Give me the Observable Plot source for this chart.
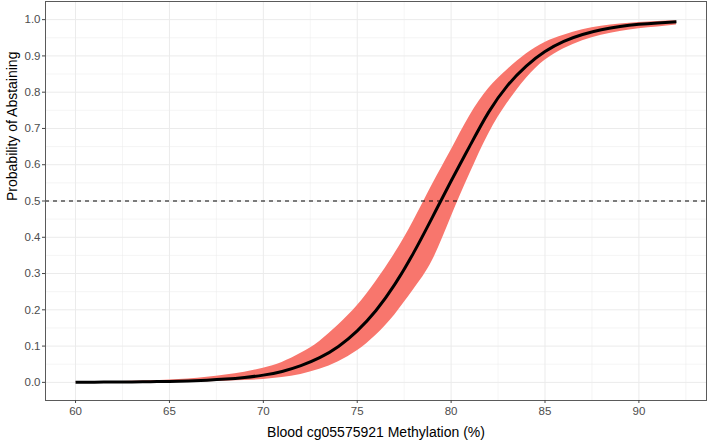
<!DOCTYPE html>
<html>
<head>
<meta charset="utf-8">
<script src="https://cdn.jsdelivr.net/npm/d3@7"></script>
<script src="https://cdn.jsdelivr.net/npm/@observablehq/plot@0.6"></script>
<style>
  html, body { margin: 0; padding: 0; background: white; }
</style>
</head>
<body>
<div id="chart"></div>
<script>
const methylation = [60,61,62,63,64,65,66,67,68,69,70,71,72,73,74,75,76,77,78,79,80,81,82,83,84,85,86,87,88,89,90,91,92];
const fitted = [0.0004,0.0006,0.0008,0.0012,0.0018,0.0027,0.004,0.006,0.009,0.0135,0.02,0.03,0.046,0.068,0.099,0.142,0.198,0.27,0.357,0.455,0.555,0.652,0.745,0.818,0.872,0.912,0.94,0.959,0.972,0.981,0.987,0.991,0.994];
const upper = [0.001,0.0015,0.002,0.003,0.0045,0.0065,0.0095,0.014,0.02,0.028,0.039,0.055,0.08,0.113,0.158,0.211,0.278,0.355,0.445,0.545,0.64,0.735,0.81,0.862,0.905,0.937,0.957,0.972,0.982,0.988,0.992,0.995,0.997];
const lower = [0.0001,0.0001,0.0002,0.0003,0.0005,0.0008,0.0013,0.002,0.0032,0.005,0.008,0.0135,0.022,0.036,0.057,0.087,0.13,0.186,0.255,0.335,0.455,0.575,0.685,0.77,0.838,0.888,0.92,0.942,0.957,0.967,0.975,0.98,0.985];
const xTicks = [60,65,70,75,80,85,90];
const xMinor = [62.5,67.5,72.5,77.5,82.5,87.5,92.5];
const yTicks = [0,0.1,0.2,0.3,0.4,0.5,0.6,0.7,0.8,0.9,1.0];
const yMinor = [0.05,0.15,0.25,0.35,0.45,0.55,0.65,0.75,0.85,0.95];
const threshold = [0.5];

const data = methylation.map((x, i) => ({x, fit: fitted[i], lo: lower[i], hi: upper[i]}));

const chart = Plot.plot({
  width: 708,
  height: 442,
  marginLeft: 45,
  marginRight: 2,
  marginTop: 1,
  marginBottom: 42,
  style: {fontFamily: "'Liberation Sans', Arial, sans-serif", background: "white", overflow: "visible"},
  x: {domain: [58.4, 93.6]},
  y: {domain: [-0.05, 1.05]},
  marks: [
    Plot.gridX(xMinor, {stroke: "#ebebeb", strokeOpacity: 1, strokeWidth: 0.5}),
    Plot.gridY(yMinor, {stroke: "#ebebeb", strokeOpacity: 1, strokeWidth: 0.5}),
    Plot.gridX(xTicks, {stroke: "#ebebeb", strokeOpacity: 1, strokeWidth: 1}),
    Plot.gridY(yTicks, {stroke: "#ebebeb", strokeOpacity: 1, strokeWidth: 1}),
    Plot.areaY(data, {x: "x", y1: "lo", y2: "hi", fill: "#F8766D", curve: "natural"}),
    Plot.line(data, {x: "x", y: "fit", stroke: "black", strokeWidth: 3, curve: "natural", strokeLinecap: "butt"}),
    Plot.ruleY(threshold, {stroke: "black", strokeWidth: 1, strokeDasharray: "4,4"}),
    Plot.frame({stroke: "#5a5a5a", strokeWidth: 1}),
    Plot.axisX(xTicks, {tickSize: 3, tickPadding: 3, fontSize: 11.5, color: "#4d4d4d", stroke: "#444", label: null}),
    Plot.axisY(yTicks, {tickSize: 3, tickPadding: 2, fontSize: 11.5, color: "#4d4d4d", stroke: "#444", label: null, tickFormat: d3.format(".1f")}),
    Plot.text(["Blood cg05575921 Methylation (%)"], {frameAnchor: "bottom", dy: 36, fontSize: 14, fill: "black", text: d => d}),
    Plot.text(["Probability of Abstaining"], {frameAnchor: "left", dx: -33, rotate: -90, fontSize: 14, fill: "black", text: d => d})
  ]
});
document.getElementById("chart").appendChild(chart);
</script>
</body>
</html>
